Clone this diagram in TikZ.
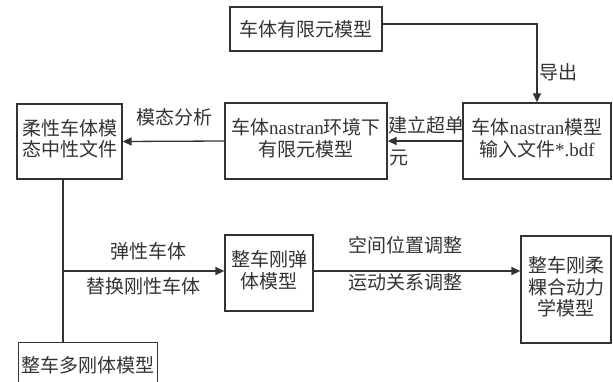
\documentclass[tikz,border=0pt]{standalone}
\usepackage{fontspec}
\setmainfont{Liberation Serif}
\newfontfamily\cjk{Noto Sans CJK SC}
\usetikzlibrary{arrows.meta}
\definecolor{ink}{HTML}{333333}
\begin{document}
\begin{tikzpicture}[x=1pt,y=-1pt,
  box/.style={draw=ink,line width=1.3pt,rectangle,inner sep=0pt,text=ink,align=center,
    font=\fontsize{19}{22}\selectfont\cjk},
  lbl/.style={text=ink,font=\fontsize{19}{22}\selectfont\cjk,inner sep=0pt},
  conn/.style={draw=ink,line width=1.3pt},
  arr/.style={conn,-{Triangle[length=9pt,width=8pt]}}]
\useasboundingbox (0,0) rectangle (613,382);
\node[box,minimum width=152pt,minimum height=44pt] (top) at (306,29) {车体有限元模型};
\node[box,minimum width=148pt,minimum height=76pt] (C) at (537,141)
  {\begin{tabular}{@{}c@{}}车体{\rmfamily nastran}模型\\[-1pt]输入文件{\rmfamily *.bdf}\end{tabular}};
\node[box,minimum width=162pt,minimum height=76pt] (B) at (306,141)
  {\begin{tabular}{@{}c@{}}车体{\rmfamily nastran}环境下\\[-1pt]有限元模型\end{tabular}};
\node[box,minimum width=105pt,minimum height=75pt] (A) at (69.5,141.5)
  {\begin{tabular}{@{}c@{}}柔性车体模\\[-2pt]态中性文件\end{tabular}};
\node[box,minimum width=88pt,minimum height=76pt] (D) at (269,273)
  {\begin{tabular}{@{}c@{}}整车刚弹\\[-1pt]体模型\end{tabular}};
\node[box,minimum width=90pt,minimum height=107pt] (F) at (566,289.5)
  {\begin{tabular}{@{}c@{}}整车刚柔\\[-1pt]粿合动力\\[-1pt]学模型\end{tabular}};
\node[box,minimum width=139pt,minimum height=50pt,anchor=north west] (E) at (18,342) {};
\node[lbl] (Et) at (87.5,365) {整车多刚体模型};
\coordinate (j) at (63,271);
\draw[arr] ([yshift=5pt]top.east) -| (C.north);
\node[lbl,anchor=west] (dc) at (539,72) {导出};
\draw[arr] (C.west) -- (B.east);
\node[lbl] (l1) at (426,125) {建立超单};
\node[lbl] (l2) at (399,158) {元};
\draw[arr] (B.west) -- (A.east);
\node[lbl] (l3) at (174,117) {模态分析};
\draw[conn] (A.south -| j) -- (E.north -| j);
\draw[arr] (j) -- (j -| D.west);
\node[lbl] (l4) at (148,251) {弹性车体};
\node[lbl] (l5) at (143,286) {替换刚性车体};
\draw[arr] (j -| D.east) -- (j -| F.west);
\node[lbl] (l6) at (405,245) {空间位置调整};
\node[lbl] (l7) at (405,282) {运动关系调整};
\end{tikzpicture}
\end{document}
